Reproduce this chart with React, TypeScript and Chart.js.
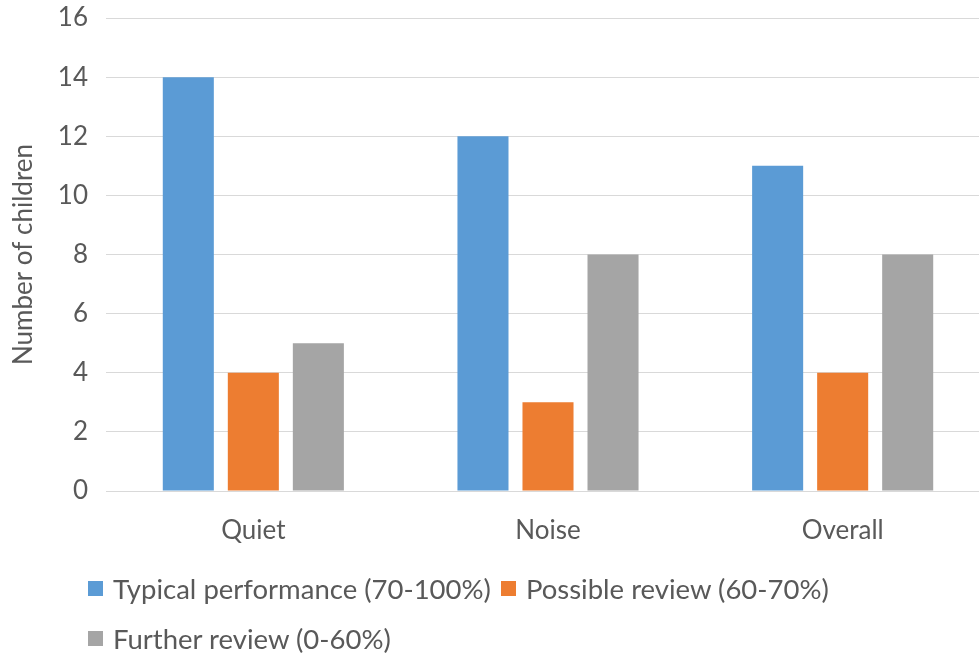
import React, { useEffect, useRef } from "react";
import { Chart, registerables } from "chart.js";

Chart.register(...registerables);

const categories = ["Quiet", "Noise", "Overall"];
const seriesNames = [
  "Typical performance (70-100%)",
  "Possible review (60-70%)",
  "Further review (0-60%)",
];
const typicalValues = [14, 12, 11];
const possibleValues = [4, 3, 4];
const furtherValues = [5, 8, 8];
const seriesColors = ["#5B9BD5", "#ED7D31", "#A5A5A5"];
const yTicks = [0, 2, 4, 6, 8, 10, 12, 14, 16];
const yTitle = "Number of children";

const FONT = "Lato, 'Open Sans', sans-serif";
const TEXT = "#595959";

export default function App() {
  const ref = useRef<HTMLCanvasElement | null>(null);

  useEffect(() => {
    if (!ref.current) return;
    const values = [typicalValues, possibleValues, furtherValues];
    const chart = new Chart(ref.current, {
      type: "bar",
      data: {
        labels: categories,
        datasets: seriesNames.map((name, i) => ({
          label: name,
          data: values[i],
          backgroundColor: seriesColors[i],
          borderWidth: 0,
          categoryPercentage: 0.662,
          barPercentage: 0.785,
        })),
      },
      options: {
        responsive: false,
        animation: false,
        devicePixelRatio: 1,
        layout: { padding: { top: 18, right: 0, bottom: 106, left: 0 } },
        plugins: {
          legend: { display: false },
          tooltip: { enabled: false },
        },
        scales: {
          x: {
            grid: { display: false, drawTicks: false },
            border: { display: true, color: "#D9D9D9", width: 1 },
            ticks: {
              color: TEXT,
              font: { family: FONT, size: 26 },
              padding: 24,
            },
            afterFit: (s: any) => {
              s.height = 60;
              s.paddingLeft = 0;
              s.paddingRight = 0;
            },
          },
          y: {
            min: 0,
            max: 16,
            afterBuildTicks: (s: any) => {
              s.ticks = yTicks.map((v) => ({ value: v }));
            },
            grid: { color: "#D9D9D9", lineWidth: 1, drawTicks: false },
            border: { display: false },
            ticks: {
              color: TEXT,
              font: { family: FONT, size: 26 },
              padding: 18,
            },
            title: {
              display: true,
              text: yTitle,
              color: TEXT,
              font: { family: FONT, size: 26 },
              padding: { top: 8, bottom: 0 },
            },
            afterFit: (s: any) => {
              s.width = 106;
              s.paddingTop = 0;
              s.paddingBottom = 0;
            },
          },
        },
      },
    });
    return () => chart.destroy();
  }, []);

  return (
    <div
      style={{
        position: "fixed",
        left: 0,
        top: 0,
        width: 979,
        height: 657,
        background: "#fff",
        overflow: "hidden",
      }}
    >
      <canvas ref={ref} width={990} height={657} style={{ display: "block" }} />
      <div
        style={{
          position: "absolute",
          left: 88,
          top: 563,
          width: 891,
          display: "flex",
          flexWrap: "wrap",
          fontFamily: FONT,
          fontSize: 27.5,
          color: TEXT,
        }}
      >
        {seriesNames.map((name, i) => (
          <div
            key={name}
            style={{
              display: "flex",
              alignItems: "center",
              height: 50,
              marginRight: 10,
              whiteSpace: "nowrap",
            }}
          >
            <span
              style={{
                display: "inline-block",
                width: 15,
                height: 15,
                background: seriesColors[i],
                marginRight: 10,
              }}
            />
            <span>{name}</span>
          </div>
        ))}
      </div>
    </div>
  );
}
